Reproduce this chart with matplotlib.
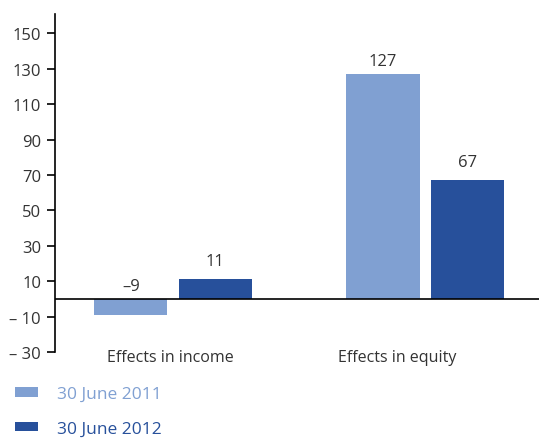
import matplotlib.pyplot as plt
import numpy as np

categories = ["Effects in income", "Effects in equity"]
series_names = ["30 June 2011", "30 June 2012"]
values_2011 = [-9, 127]
values_2012 = [11, 67]
labels_2011 = ["\u20139", "127"]
labels_2012 = ["11", "67"]
yticks = [-30, -10, 10, 30, 50, 70, 90, 110, 130, 150]
ytick_labels = ["\u2013 30", "\u2013 10", "10", "30", "50", "70", "90", "110", "130", "150"]

c_light = "#80a0d2"
c_dark = "#27509b"
c_text = "#333333"

plt.rcParams["font.family"] = ["Open Sans", "DejaVu Sans"]

fig = plt.figure(figsize=(5.39, 4.39), dpi=100)
ax = fig.add_axes([55 / 539, 1 - 353 / 439, 1 - 55 / 539, (353 - 15) / 439])

x = np.arange(len(categories))
w = 0.29
off = 0.167
b1 = ax.bar(x - off, values_2011, w, color=c_light, label=series_names[0])
b2 = ax.bar(x + off, values_2012, w, color=c_dark, label=series_names[1])

for rect, v, t in zip(b1, values_2011, labels_2011):
    y = max(v, 0) + 3
    ax.text(rect.get_x() + rect.get_width() / 2, y, t, ha="center", va="bottom",
            fontsize=12, color=c_text)
for rect, v, t in zip(b2, values_2012, labels_2012):
    ax.text(rect.get_x() + rect.get_width() / 2, v + 6, t, ha="center", va="bottom",
            fontsize=12, color=c_text)

ax.axhline(0, color="black", lw=1.2)
ax.set_xlim(-0.468, 1.452)
ax.set_ylim(-30, 161)
ax.set_yticks(yticks)
ax.set_yticklabels(ytick_labels, fontsize=12, color=c_text)
ax.tick_params(axis="y", direction="out", length=6, width=1.2, pad=4)
ax.set_xticks([])
for s in ["top", "right", "bottom"]:
    ax.spines[s].set_visible(False)
ax.spines["left"].set_linewidth(1.2)

for xi, cat in zip([-0.01, 0.89], categories):
    ax.text(xi, -33, cat, ha="center", va="center", fontsize=11.5, color=c_text)

leg = fig.legend(handles=[b1, b2], loc="upper left", bbox_to_anchor=(0.028, 0.118),
                 frameon=False, fontsize=12.5, handlelength=1.32, handleheight=0.46,
                 labelspacing=1.08, handletextpad=1.09, borderpad=0, borderaxespad=0)
for txt, col in zip(leg.get_texts(), [c_light, c_dark]):
    txt.set_color(col)

fig.savefig("out.png", dpi=100)
